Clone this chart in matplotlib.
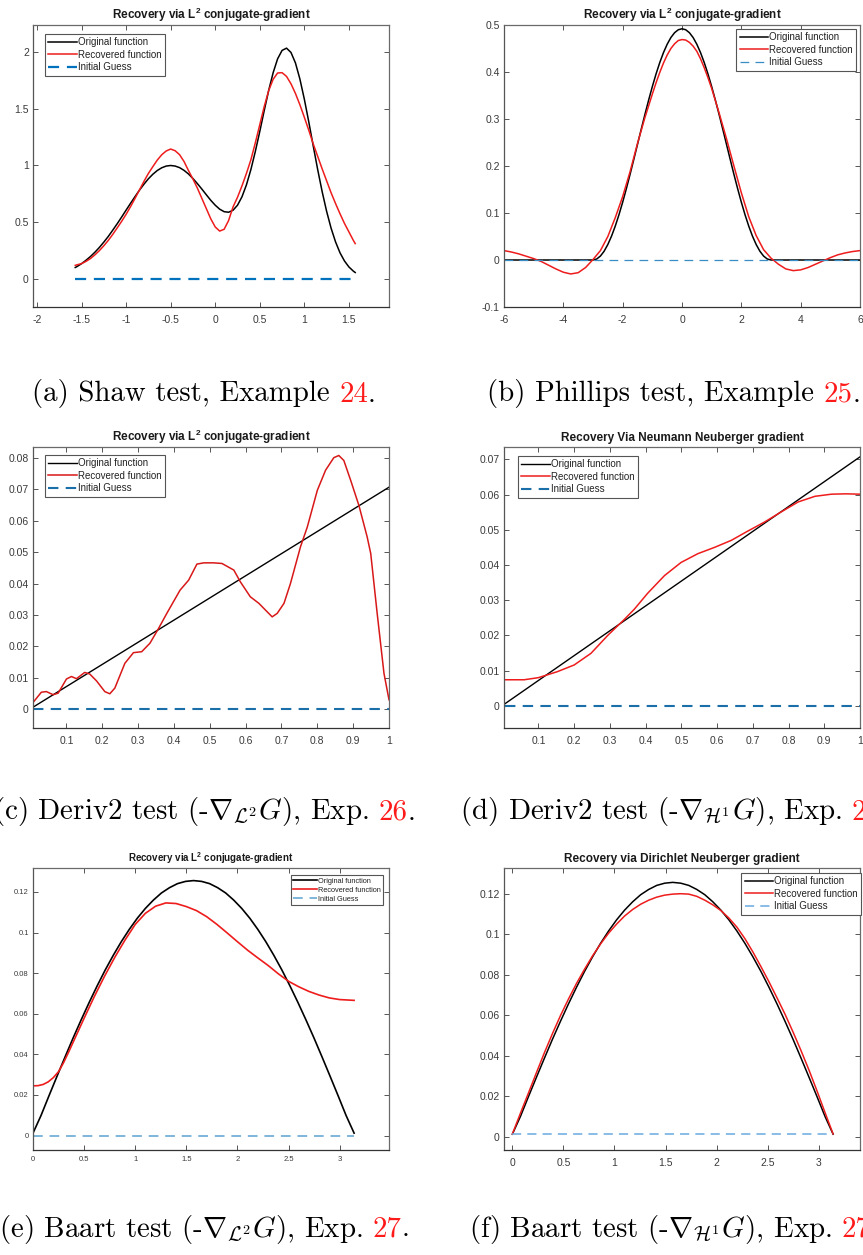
import matplotlib
matplotlib.use("Agg")
import matplotlib.pyplot as plt
from matplotlib.offsetbox import TextArea, HPacker, AnnotationBbox

plt.rcParams['font.family'] = ['Liberation Sans', 'DejaVu Sans']
plt.rcParams['mathtext.fontset'] = 'custom'
plt.rcParams['mathtext.rm'] = 'Liberation Sans'
plt.rcParams['mathtext.bf'] = 'Liberation Sans:bold'
plt.rcParams['mathtext.it'] = 'Liberation Sans:italic'

# ---- (a) Shaw test ----
shaw_x = [-1.5708, -1.55, -1.5, -1.45, -1.4, -1.35, -1.3, -1.25, -1.2, -1.15, -1.1, -1.05,
          -1.0, -0.95, -0.9, -0.85, -0.8, -0.75, -0.7, -0.65, -0.6, -0.55, -0.5, -0.45,
          -0.4, -0.35, -0.3, -0.25, -0.2, -0.15, -0.1, -0.05, 0.0, 0.05, 0.1, 0.15,
          0.2, 0.25, 0.3, 0.35, 0.4, 0.45, 0.5, 0.55, 0.6, 0.65, 0.7, 0.75,
          0.8, 0.85, 0.9, 0.95, 1.0, 1.05, 1.1, 1.15, 1.2, 1.25, 1.3, 1.35,
          1.4, 1.45, 1.5, 1.55, 1.5708]
shaw_orig = [0.101, 0.110, 0.135, 0.165, 0.198, 0.236, 0.278, 0.325, 0.375, 0.430, 0.487, 0.546,
             0.607, 0.667, 0.726, 0.783, 0.835, 0.883, 0.923, 0.956, 0.980, 0.995, 1.000, 0.995,
             0.981, 0.957, 0.925, 0.885, 0.840, 0.792, 0.742, 0.693, 0.650, 0.615, 0.593, 0.588,
             0.606, 0.650, 0.724, 0.829, 0.964, 1.124, 1.300, 1.485, 1.662, 1.818, 1.940, 2.014,
             2.034, 1.996, 1.904, 1.762, 1.584, 1.383, 1.171, 0.963, 0.769, 0.596, 0.448, 0.327,
             0.231, 0.159, 0.106, 0.069, 0.057]
shaw_rec = [0.120, 0.125, 0.135, 0.155, 0.180, 0.213, 0.250, 0.293, 0.340, 0.393, 0.450, 0.508,
            0.570, 0.638, 0.710, 0.785, 0.860, 0.930, 0.990, 1.048, 1.095, 1.128, 1.145, 1.130,
            1.095, 1.035, 0.955, 0.880, 0.800, 0.710, 0.620, 0.530, 0.458, 0.422, 0.438, 0.515,
            0.635, 0.720, 0.820, 0.930, 1.050, 1.200, 1.360, 1.520, 1.660, 1.760, 1.815, 1.818,
            1.785, 1.720, 1.635, 1.535, 1.425, 1.310, 1.190, 1.080, 0.970, 0.865, 0.760, 0.665,
            0.575, 0.490, 0.415, 0.340, 0.312]
shaw_guess_x = [-1.5708, 1.5708]
shaw_guess = [0.0, 0.0]

# ---- (b) Phillips test ----
phil_x = [-6, -3, -2.875, -2.75, -2.625, -2.5, -2.375, -2.25, -2.125, -2, -1.875, -1.75,
          -1.625, -1.5, -1.375, -1.25, -1.125, -1, -0.875, -0.75, -0.625, -0.5, -0.375,
          -0.25, -0.125, 0, 0.125, 0.25, 0.375, 0.5, 0.625, 0.75, 0.875, 1, 1.125, 1.25,
          1.375, 1.5, 1.625, 1.75, 1.875, 2, 2.125, 2.25, 2.375, 2.5, 2.625, 2.75, 2.875,
          3, 6]
phil_orig = [0, 0, 0.0021, 0.0084, 0.0187, 0.0330, 0.0508, 0.0721, 0.0962, 0.1230, 0.1519, 0.1823,
             0.2139, 0.2460, 0.2781, 0.3097, 0.3401, 0.3690, 0.3958, 0.4200, 0.4412, 0.4590, 0.4733,
             0.4836, 0.4899, 0.4920, 0.4899, 0.4836, 0.4733, 0.4590, 0.4412, 0.4200, 0.3958, 0.3690,
             0.3401, 0.3097, 0.2781, 0.2460, 0.2139, 0.1823, 0.1519, 0.1230, 0.0962, 0.0721, 0.0508,
             0.0330, 0.0187, 0.0084, 0.0021, 0, 0]
phil_rec_x = [-6, -5.75, -5.5, -5.25, -5, -4.75, -4.5, -4.25, -4, -3.75, -3.5, -3.25, -3,
              -2.75, -2.5, -2.25, -2, -1.75, -1.5, -1.25, -1, -0.875, -0.75, -0.625, -0.5,
              -0.375, -0.25, -0.125, 0, 0.125, 0.25, 0.375, 0.5, 0.625, 0.75, 0.875, 1, 1.25,
              1.5, 1.75, 2, 2.25, 2.5, 2.75, 3, 3.25, 3.5, 3.75, 4, 4.25, 4.5, 4.75, 5, 5.25,
              5.5, 5.75, 6]
phil_rec = [0.020, 0.017, 0.013, 0.008, 0.003, -0.003, -0.011, -0.019, -0.026, -0.0297, -0.027, -0.016, 0.001,
            0.020, 0.050, 0.090, 0.135, 0.188, 0.248, 0.303, 0.353, 0.377, 0.399, 0.419, 0.436,
            0.450, 0.460, 0.467, 0.469, 0.468, 0.463, 0.455, 0.444, 0.428, 0.409, 0.388, 0.365, 0.313,
            0.258, 0.200, 0.143, 0.092, 0.052, 0.022, 0.004, -0.009, -0.019, -0.0226, -0.021, -0.016, -0.009, -0.002, 0.005, 0.011,
            0.015, 0.018, 0.020]
phil_guess_x = [-6, 6]
phil_guess = [0.0, 0.0]

# ---- (c) Deriv2, L2 gradient ----
d2_orig_x = [0.005, 1.0]
d2_orig = [0.0005, 0.0707]
d2l2_x = [0.0067, 0.030, 0.044, 0.063, 0.077, 0.100, 0.114, 0.128, 0.151, 0.165, 0.184, 0.207, 0.221,
          0.235, 0.263, 0.287, 0.310, 0.333, 0.357, 0.380, 0.417, 0.441, 0.464, 0.483, 0.511, 0.534,
          0.567, 0.585, 0.613, 0.637, 0.655, 0.674, 0.688, 0.707, 0.725, 0.753, 0.772, 0.800, 0.823,
          0.846, 0.860, 0.874, 0.893, 0.916, 0.939, 0.949, 0.967, 0.986, 1.0]
d2l2_rec = [0.0021, 0.0054, 0.0056, 0.0046, 0.0051, 0.0096, 0.0104, 0.0097, 0.0117, 0.0112, 0.0090, 0.0056, 0.0049,
            0.0067, 0.0146, 0.0180, 0.0183, 0.0210, 0.0257, 0.0305, 0.0379, 0.0411, 0.0462, 0.0466, 0.0466, 0.0464,
            0.0443, 0.0406, 0.0358, 0.0337, 0.0316, 0.0294, 0.0305, 0.0337, 0.0400, 0.0517, 0.0580, 0.0697, 0.0761,
            0.0801, 0.0808, 0.0792, 0.0729, 0.0649, 0.0549, 0.0496, 0.0305, 0.0114, 0.0030]
d2_guess_x = [0.0067, 1.0]
d2_guess = [0.0, 0.0]

# ---- (d) Deriv2, H1 gradient ----
d2h1_x = [0.0036, 0.06, 0.10, 0.153, 0.20, 0.247, 0.294, 0.340, 0.368, 0.406, 0.453, 0.499, 0.546,
          0.593, 0.640, 0.682, 0.733, 0.780, 0.827, 0.874, 0.920, 0.960, 1.0]
d2h1_rec = [0.0074, 0.0074, 0.0080, 0.0097, 0.0116, 0.0149, 0.0200, 0.0245, 0.0274, 0.0320, 0.0370, 0.0407, 0.0432,
            0.0450, 0.0470, 0.0494, 0.0522, 0.0551, 0.0579, 0.0595, 0.0601, 0.0602, 0.0601]

# ---- (e),(f) Baart test ----
baart_x = [0.0, 0.0785, 0.1571, 0.2356, 0.3142, 0.3927, 0.4712, 0.5498, 0.6283, 0.7069, 0.7854,
           0.8639, 0.9425, 1.0210, 1.0996, 1.1781, 1.2566, 1.3352, 1.4137, 1.4923, 1.5708,
           1.6493, 1.7279, 1.8064, 1.8850, 1.9635, 2.0420, 2.1206, 2.1991, 2.2777, 2.3562,
           2.4347, 2.5133, 2.5918, 2.6704, 2.7489, 2.8274, 2.9060, 2.9845, 3.0631, 3.1416]
baart_orig = [0.0012, 0.0099, 0.0197, 0.0293, 0.0388, 0.0481, 0.0570, 0.0656, 0.0738, 0.0816, 0.0888,
              0.0955, 0.1016, 0.1071, 0.1119, 0.1160, 0.1195, 0.1221, 0.1241, 0.1252, 0.1256,
              0.1252, 0.1241, 0.1221, 0.1195, 0.1160, 0.1119, 0.1071, 0.1016, 0.0955, 0.0888,
              0.0816, 0.0738, 0.0656, 0.0570, 0.0481, 0.0388, 0.0293, 0.0197, 0.0099, 0.0012]
bl2_x = [0.0, 0.05, 0.1, 0.15, 0.2, 0.25, 0.3, 0.35, 0.4, 0.5, 0.6, 0.7, 0.8, 0.9, 1.0, 1.1, 1.2,
         1.3, 1.4, 1.5, 1.6, 1.7, 1.8, 1.9, 2.0, 2.1, 2.2, 2.3, 2.4, 2.5, 2.6, 2.7, 2.8, 2.9,
         3.0, 3.1416]
bl2_rec = [0.0245, 0.0246, 0.0252, 0.0265, 0.0286, 0.0315, 0.0360, 0.0413, 0.0468, 0.0578, 0.0685, 0.0785,
           0.0878, 0.0963, 0.1040, 0.1095, 0.1130, 0.1146, 0.1143, 0.1128, 0.1108, 0.1078, 0.1040, 0.0998,
           0.0955, 0.0913, 0.0875, 0.0838, 0.0797, 0.0760, 0.0733, 0.0710, 0.0692, 0.0678, 0.0670, 0.0666]
bh1_rec = [0.0013, 0.0115, 0.0215, 0.0316, 0.0415, 0.0509, 0.0598, 0.0680, 0.0757, 0.0827, 0.0893,
           0.0952, 0.1005, 0.1050, 0.1090, 0.1122, 0.1148, 0.1168, 0.1183, 0.1193, 0.1198,
           0.1200, 0.1198, 0.1187, 0.1168, 0.1145, 0.1117, 0.1080, 0.1035, 0.0978, 0.0912,
           0.0840, 0.0765, 0.0686, 0.0605, 0.0517, 0.0425, 0.0328, 0.0225, 0.0118, 0.0013]
baart_guess_x = [0.0, 3.1416]
bl2_guess = [0.0, 0.0]
bh1_guess = [0.0013, 0.0013]

# tick positions
a_xt = [-2, -1.5, -1, -0.5, 0, 0.5, 1, 1.5]
a_yt = [0, 0.5, 1, 1.5, 2]
b_xt = [-6, -4, -2, 0, 2, 4, 6]
b_yt = [-0.1, 0, 0.1, 0.2, 0.3, 0.4, 0.5]
cd_xt = [0.1, 0.2, 0.3, 0.4, 0.5, 0.6, 0.7, 0.8, 0.9, 1]
c_yt = [0, 0.01, 0.02, 0.03, 0.04, 0.05, 0.06, 0.07, 0.08]
d_yt = [0, 0.01, 0.02, 0.03, 0.04, 0.05, 0.06, 0.07]
ef_xt = [0, 0.5, 1, 1.5, 2, 2.5, 3]
ef_yt = [0, 0.02, 0.04, 0.06, 0.08, 0.1, 0.12]

labels = ['Original function', 'Recovered function', 'Initial Guess']

W, H = 863, 1255
fig = plt.figure(figsize=(W / 100, H / 100), dpi=100)
fig.patch.set_facecolor('white')

RED = '#ee1c1c'


def panel(rect, xlim, ylim, xt, yt, title, fs=7.5, tfs=8.5, xpad=5.5):
    l, t, r, b = rect
    ax = fig.add_axes([l / W, 1 - b / H, (r - l) / W, (b - t) / H])
    ax.set_xlim(*xlim)
    ax.set_ylim(*ylim)
    ax.set_xticks(xt)
    ax.set_xticklabels(['%g' % v for v in xt])
    ax.set_yticks(yt)
    ax.set_yticklabels(['%g' % v for v in yt])
    ax.tick_params(direction='in', top=True, right=True, length=3.5, width=0.7,
                   labelsize=fs, colors='#555555', labelcolor='#3a3a3a')
    ax.tick_params(axis='x', pad=xpad)
    ax.tick_params(axis='y', pad=3)
    for s in ax.spines.values():
        s.set_color('#6a6a6a')
        s.set_linewidth(0.9)
    ax.spines['bottom'].set_color('#333333')
    ax.spines['left'].set_color('#555555')
    ax.set_title(title, fontsize=tfs, fontweight='bold', pad=4, color='#1a1a1a')
    return ax


def legend(ax, loc, px, py, fs=7, hl=2.9):
    lg = ax.legend(labels, loc=loc, bbox_to_anchor=(px / W, 1 - py / H),
                   bbox_transform=fig.transFigure, borderaxespad=0, fontsize=fs,
                   fancybox=False, framealpha=1, edgecolor='#555555', handlelength=hl,
                   handletextpad=0.1, labelspacing=0.25, borderpad=0.35)
    lg.get_frame().set_linewidth(0.8)
    for txt in lg.get_texts():
        txt.set_color('#222222')
    return lg


t_l2 = r'Recovery via L$^{\mathbf{2}}$ conjugate-gradient'

# (a)
ax = panel((33, 25, 389, 307), (-2.045, 1.95), (-0.247, 2.238), a_xt, a_yt, t_l2)
ax.plot(shaw_x, shaw_orig, color='black', lw=1.1)
ax.plot(shaw_x, shaw_rec, color=RED, lw=1.1)
ax.plot(shaw_guess_x, shaw_guess, color='#0072BD', lw=1.6, ls=(0, (5, 3.5)))
legend(ax, 'upper left', 45, 34)

# (b)
ax = panel((504, 25, 860, 307), (-6, 6), (-0.1, 0.5), b_xt, b_yt, t_l2)
ax.plot(phil_x, phil_orig, color='black', lw=1.1)
ax.plot(phil_rec_x, phil_rec, color=RED, lw=1.1)
ax.plot(phil_guess_x, phil_guess, color='#3a8cc4', lw=0.9, ls=(0, (7, 5)))
legend(ax, 'upper right', 856, 29)

# (c)
ax = panel((33, 447, 389, 728), (0.0067, 1.0), (-0.006, 0.0835), cd_xt, c_yt, t_l2)
ax.plot(d2_orig_x, d2_orig, color='black', lw=1.0)
ax.plot(d2l2_x, d2l2_rec, color='#d81818', lw=1.1)
ax.plot(d2_guess_x, d2_guess, color='#1a6fa8', lw=1.5, ls=(0, (5, 3.5)))
legend(ax, 'upper left', 45, 455)

# (d)
ax = panel((504, 447, 860, 728), (0.0036, 1.0), (-0.0063, 0.0735), cd_xt, d_yt,
           'Recovery Via Neumann Neuberger gradient')
ax.plot(d2_orig_x, d2_orig, color='black', lw=1.0)
ax.plot(d2h1_x, d2h1_rec, color=RED, lw=1.1)
ax.plot(d2_guess_x, d2_guess, color='#1a6fa8', lw=1.5, ls=(0, (5, 3.5)))
legend(ax, 'upper left', 518, 456)

# (e)
ax = panel((33, 868, 389, 1150), (0, 3.483), (-0.0071, 0.1318), ef_xt, ef_yt, t_l2,
           fs=5.5, tfs=7, xpad=4)
ax.plot(baart_x, baart_orig, color='black', lw=1.2)
ax.plot(bl2_x, bl2_rec, color=RED, lw=1.2)
ax.plot(baart_guess_x, bl2_guess, color='#7fb6dc', lw=1.4, ls=(0, (5, 3.5)))
legend(ax, 'upper right', 383, 875, fs=5.3, hl=3.2)

# (f)
ax = panel((504, 868, 860, 1150), (-0.082, 3.405), (-0.0066, 0.1327), ef_xt, ef_yt,
           'Recovery via Dirichlet Neuberger gradient')
ax.plot(baart_x, baart_orig, color='black', lw=1.1)
ax.plot(baart_x, bh1_rec, color=RED, lw=1.1)
ax.plot(baart_guess_x, bh1_guess, color='#6aaae0', lw=1.1, ls=(0, (6, 4)))
legend(ax, 'upper right', 861, 873)

# captions: black text + red reference number + period
captions = [
    (204, 394, r'(a) Shaw test, Example', '24'),
    (674, 394, r'(b) Phillips test, Example', '25'),
    (204, 812, r'(c) Deriv2 test (-$\nabla_{\mathcal{L}^2}G$), Exp.', '26'),
    (674, 812, r'(d) Deriv2 test (-$\nabla_{\mathcal{H}^1}G$), Exp.', '26'),
    (204, 1229, r'(e) Baart test (-$\nabla_{\mathcal{L}^2}G$), Exp.', '27'),
    (674, 1229, r'(f) Baart test (-$\nabla_{\mathcal{H}^1}G$), Exp.', '27'),
]
cap_fs = 20.8
for cx, cy, txt, num in captions:
    props = dict(fontsize=cap_fs, family='cmr10', math_fontfamily='cm')
    head = TextArea(txt, textprops=dict(color='black', **props))
    ref = TextArea(num, textprops=dict(color='#ff1a1a', **props))
    dot = TextArea('.', textprops=dict(color='black', **props))
    inner = HPacker(children=[head, ref], align='baseline', pad=0, sep=cap_fs * 0.333)
    box = HPacker(children=[inner, dot], align='baseline', pad=0, sep=0)
    ab = AnnotationBbox(box, (cx / W, 1 - cy / H), xycoords='figure fraction',
                        frameon=False, box_alignment=(0.5, 0.5), pad=0)
    fig.add_artist(ab)

fig.savefig('out.png', dpi=100, facecolor='white')
